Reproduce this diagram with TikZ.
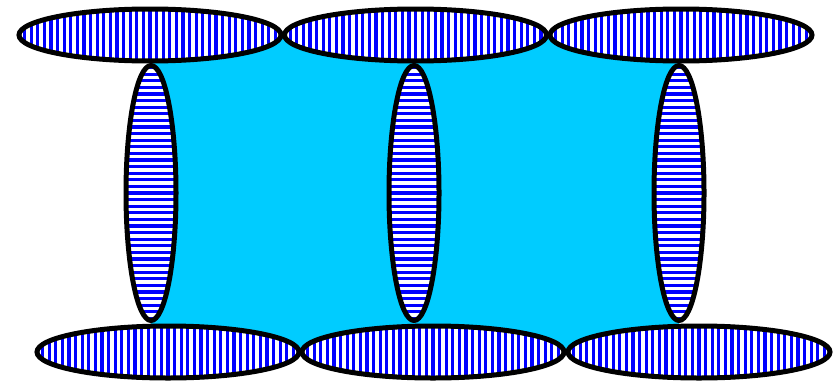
\documentclass[tikz,border=0pt]{standalone}
\definecolor{skyfill}{HTML}{00CCFF}
\definecolor{stripeblue}{HTML}{0000FF}
\tikzset{
  hell/.pic={
    \fill[white] (0,0) ellipse [x radius=131, y radius=26];
    \begin{scope}
      \clip (0,0) ellipse [x radius=131, y radius=26];
      \foreach \k in {-21,...,21}
        \fill[stripeblue] ({\k*6.6-1.6},-30) rectangle ++(3.2,60);
    \end{scope}
    \draw[line width=5pt] (0,0) ellipse [x radius=131, y radius=26];
  },
  vell/.pic={
    \fill[white] (0,0) ellipse [x radius=25, y radius=127.5];
    \begin{scope}
      \clip (0,0) ellipse [x radius=25, y radius=127.5];
      \foreach \k in {-21,...,21}
        \fill[stripeblue] (-30,{\k*6.6-1.6}) rectangle ++(60,3.2);
    \end{scope}
    \draw[line width=5pt] (0,0) ellipse [x radius=25, y radius=127.5];
  },
}
\begin{document}
\begin{tikzpicture}[x=1pt,y=-1pt]
\useasboundingbox (0,0) rectangle (834,380);
\coordinate (tl) at (151,35);
\coordinate (tr) at (679,35);
\coordinate (br) at (679,352);
\coordinate (bl) at (151,352);
\fill[skyfill] (tl) -- (tr) -- (br) -- (bl) -- cycle;
% vertical ellipses
\pic at (151,193) {vell};
\pic at (414,193) {vell};
\pic at (679,193) {vell};
% top ellipses
\pic at (150,35) {hell};
\pic at (415.5,35) {hell};
\pic at (681,35) {hell};
% bottom ellipses
\pic at (168,352) {hell};
\pic at (433,352) {hell};
\pic at (699,352) {hell};
\end{tikzpicture}
\end{document}
